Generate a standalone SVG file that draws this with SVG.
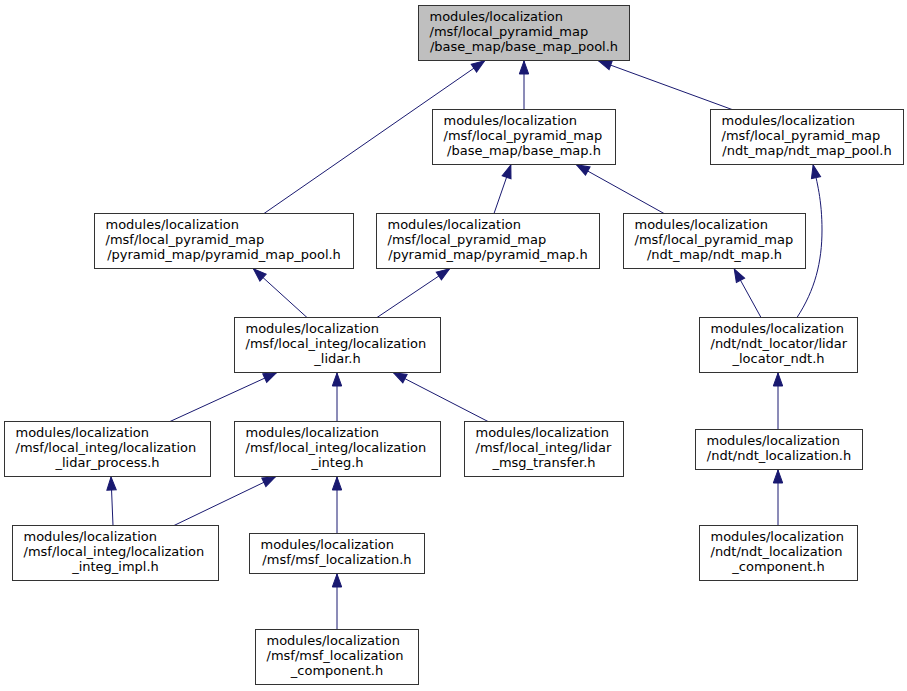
<svg xmlns="http://www.w3.org/2000/svg" width="907" height="691" viewBox="0 0 907 691">
<style>
.node rect{fill:#ffffff;stroke:#333333;stroke-width:1}
#nA rect{fill:#bfbfbf}
text{font-family:"DejaVu Sans","Liberation Sans",sans-serif;font-size:13px;fill:#000000}
.c{text-anchor:middle}
.edges path{fill:none;stroke:#191970;stroke-width:1;marker-end:url(#ah)}
</style>
<defs>
<marker id="ah" markerUnits="userSpaceOnUse" markerWidth="16" markerHeight="12" refX="13.5" refY="6" orient="auto" overflow="visible">
<path d="M0,1.3 L13,6 L0,10.7 z" fill="#191970" stroke="#191970" stroke-width="1"/>
</marker>
</defs>
<rect x="0" y="0" width="907" height="691" fill="#ffffff"/>
<g class="edges">
<path d="M264,213.5 L485,60.5"/>
<path d="M524,109.5 L524,60.5"/>
<path d="M732,109.5 L598,60.5"/>
<path d="M494,213.5 L511,164.5"/>
<path d="M664,213.5 L576,164.5"/>
<path d="M797,317.5 C815,290 822,262 822,230 C822,200 817,182 813,164.5"/>
<path d="M761,317.5 L734,268.5"/>
<path d="M307,317.5 L253,268.5"/>
<path d="M377,317.5 L450,268.5"/>
<path d="M170,421.5 L277,372.5"/>
<path d="M337,421.5 L337,372.5"/>
<path d="M488,421.5 L393,372.5"/>
<path d="M113,525.5 L111,476.5"/>
<path d="M174,525.5 L276,476.5"/>
<path d="M337,533.5 L337,476.5"/>
<path d="M337,629.5 L337,573.5"/>
<path d="M778,429.5 L778,372.5"/>
<path d="M778,525.5 L778,469.5"/>
</g>
<g id="nA" class="node"><rect x="418.5" y="5.5" width="211" height="55"/><text x="429.5" y="21">modules/localization</text><text x="429.5" y="36">/msf/local_pyramid_map</text><text class="c" x="524" y="51">/base_map/base_map_pool.h</text></g>
<g id="nB" class="node"><rect x="432.5" y="109.5" width="183" height="55"/><text x="443.5" y="125">modules/localization</text><text x="443.5" y="140">/msf/local_pyramid_map</text><text class="c" x="524" y="155">/base_map/base_map.h</text></g>
<g id="nC" class="node"><rect x="710.5" y="109.5" width="193" height="55"/><text x="721.5" y="125">modules/localization</text><text x="721.5" y="140">/msf/local_pyramid_map</text><text class="c" x="807" y="155">/ndt_map/ndt_map_pool.h</text></g>
<g id="nD" class="node"><rect x="94.5" y="213.5" width="259" height="55"/><text x="105.5" y="229">modules/localization</text><text x="105.5" y="244">/msf/local_pyramid_map</text><text class="c" x="224" y="259">/pyramid_map/pyramid_map_pool.h</text></g>
<g id="nE" class="node"><rect x="376.5" y="213.5" width="223" height="55"/><text x="387.5" y="229">modules/localization</text><text x="387.5" y="244">/msf/local_pyramid_map</text><text class="c" x="488" y="259">/pyramid_map/pyramid_map.h</text></g>
<g id="nF" class="node"><rect x="623.5" y="213.5" width="182" height="55"/><text x="634.5" y="229">modules/localization</text><text x="634.5" y="244">/msf/local_pyramid_map</text><text class="c" x="714.5" y="259">/ndt_map/ndt_map.h</text></g>
<g id="nG" class="node"><rect x="234.5" y="317.5" width="206" height="55"/><text x="245.5" y="333">modules/localization</text><text x="245.5" y="348">/msf/local_integ/localization</text><text class="c" x="337.5" y="363">_lidar.h</text></g>
<g id="nH" class="node"><rect x="699.5" y="317.5" width="158" height="55"/><text x="710.5" y="333">modules/localization</text><text x="710.5" y="348">/ndt/ndt_locator/lidar</text><text class="c" x="778.5" y="363">_locator_ndt.h</text></g>
<g id="nI" class="node"><rect x="4.5" y="421.5" width="206" height="55"/><text x="15.5" y="437">modules/localization</text><text x="15.5" y="452">/msf/local_integ/localization</text><text class="c" x="107.5" y="467">_lidar_process.h</text></g>
<g id="nJ" class="node"><rect x="234.5" y="421.5" width="206" height="55"/><text x="245.5" y="437">modules/localization</text><text x="245.5" y="452">/msf/local_integ/localization</text><text class="c" x="337.5" y="467">_integ.h</text></g>
<g id="nK" class="node"><rect x="464.5" y="421.5" width="159" height="55"/><text x="475.5" y="437">modules/localization</text><text x="475.5" y="452">/msf/local_integ/lidar</text><text class="c" x="544" y="467">_msg_transfer.h</text></g>
<g id="nL" class="node"><rect x="695.5" y="429.5" width="167" height="40"/><text x="706.5" y="445">modules/localization</text><text class="c" x="779" y="460">/ndt/ndt_localization.h</text></g>
<g id="nM" class="node"><rect x="12.5" y="525.5" width="206" height="55"/><text x="23.5" y="541">modules/localization</text><text x="23.5" y="556">/msf/local_integ/localization</text><text class="c" x="115.5" y="571">_integ_impl.h</text></g>
<g id="nN" class="node"><rect x="249.5" y="533.5" width="175" height="40"/><text x="260.5" y="549">modules/localization</text><text class="c" x="337" y="564">/msf/msf_localization.h</text></g>
<g id="nO" class="node"><rect x="255.5" y="629.5" width="163" height="55"/><text x="266.5" y="645">modules/localization</text><text x="266.5" y="660">/msf/msf_localization</text><text class="c" x="337" y="675">_component.h</text></g>
<g id="nP" class="node"><rect x="699.5" y="525.5" width="158" height="55"/><text x="710.5" y="541">modules/localization</text><text x="710.5" y="556">/ndt/ndt_localization</text><text class="c" x="778.5" y="571">_component.h</text></g>
</svg>
